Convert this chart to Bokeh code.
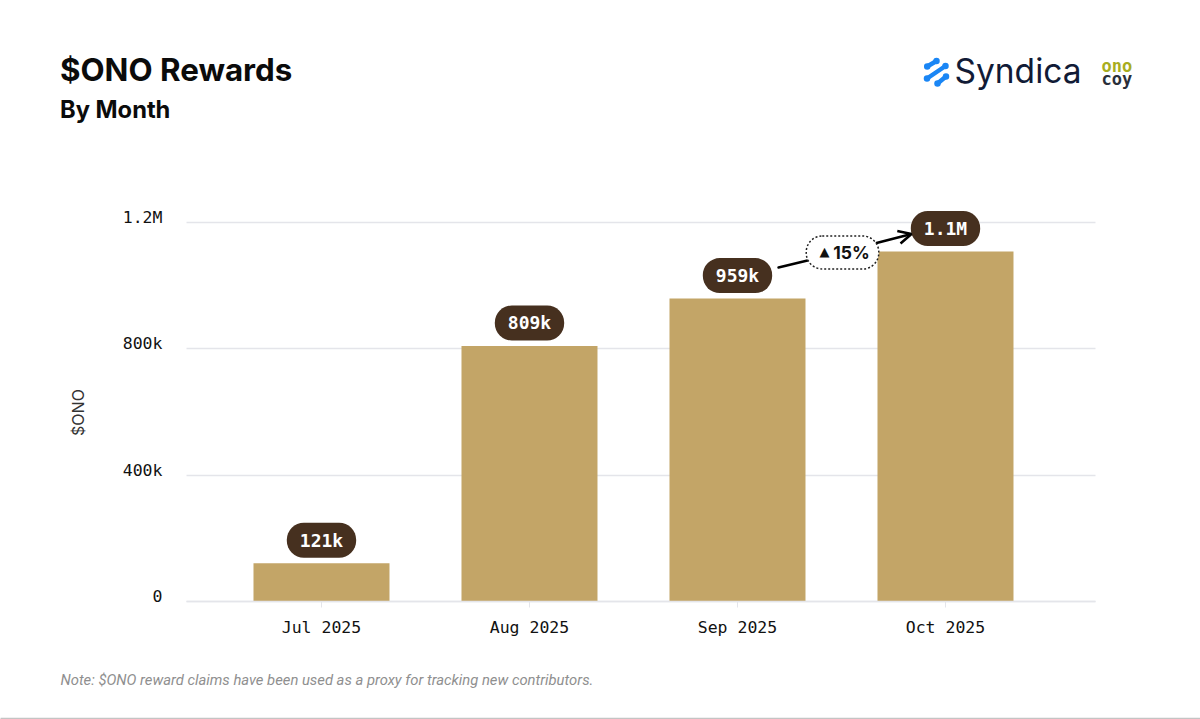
import math
from bokeh.plotting import figure
from bokeh.models import Label, Arrow, OpenHead, Range1d, FixedTicker, Grid
from bokeh.embed import file_html
from bokeh.resources import INLINE

# ---- data ----
months = ["Jul 2025", "Aug 2025", "Sep 2025", "Oct 2025"]
rewards = [121000, 809000, 959000, 1108000]
bar_labels = ["121k", "809k", "959k", "1.1M"]
y_ticks = [0, 400000, 800000, 1200000]
y_tick_labels = ["0", "400k", "800k", "1.2M"]
title = "$ONO Rewards"
subtitle = "By Month"
y_title = "$ONO"
note = "Note: $ONO reward claims have been used as a proxy for tracking new contributors."
growth_label = "15%"

PILL = "#46301f"
BAR = "#c3a567"
GRID = "#e4e5ea"
INK = "#111111"
MONO = "DejaVu Sans Mono"

xs = list(range(len(months)))
X0, STEP = -0.649, 208.0


def dx(px):
    return X0 + (px - 186) / STEP


def dy(py):
    return (601 - py) / 379 * 1200000


# The frame fills the whole canvas so that annotations outside the plot area are not clipped.
p = figure(width=1200, height=719, output_backend="svg", toolbar_location=None,
           x_range=Range1d(dx(0), dx(1200)), y_range=Range1d(dy(719), dy(0)),
           min_border_left=0, min_border_right=0, min_border_top=0, min_border_bottom=0)
p.outline_line_color = None

p.vbar(x=xs, top=rewards, width=136 / STEP, color=BAR, line_color=None)

p.xgrid.visible = False
p.ygrid.ticker = FixedTicker(ticks=y_ticks)
p.ygrid.grid_line_color = GRID
p.ygrid.grid_line_width = 1.5
if "cross_bounds" in Grid.properties():
    p.ygrid.cross_bounds = (dx(186), dx(1095))
else:
    p.ygrid.visible = False
    p.segment(x0=[dx(186)] * 4, x1=[dx(1095)] * 4, y0=y_ticks, y1=y_ticks, line_color=GRID,
              line_width=1.5, level="underlay")

ax = p.xaxis[0]
ax.fixed_location = 0
ax.bounds = (dx(186), dx(1095))
ax.ticker = FixedTicker(ticks=xs)
ax.major_label_overrides = dict(zip(xs, months))
ax.axis_line_color = GRID
ax.axis_line_width = 1.5
ax.major_tick_line_color = GRID
ax.major_tick_out = 6
ax.major_tick_in = 0
ax.minor_tick_line_color = None
ax.major_label_standoff = 10
ax.major_label_text_font = MONO
ax.major_label_text_font_size = "16.5px"
ax.major_label_text_color = INK

# the reference's tick labels sit just above their gridlines
LABEL_LIFT = 5 / 379 * 1200000
lifted = [v + LABEL_LIFT for v in y_ticks]
ay = p.yaxis[0]
ay.fixed_location = dx(186)
ay.ticker = FixedTicker(ticks=lifted)
ay.major_label_overrides = dict(zip(lifted, y_tick_labels))
ay.axis_line_color = None
ay.major_tick_line_color = None
ay.minor_tick_line_color = None
ay.major_label_standoff = 18
ay.major_label_text_font = MONO
ay.major_label_text_font_size = "16.5px"
ay.major_label_text_color = INK

for x, v, t in zip(xs, rewards, bar_labels):
    p.add_layout(Label(x=x, y=v, text=t, y_offset=23, text_align="center", text_baseline="middle",
                       text_color="white", text_font=MONO, text_font_style="bold", text_font_size="18px",
                       background_fill_color=PILL, border_radius=17, padding=(13, 7)))


def line(x0, y0, x1, y1, color, width, head=None):
    p.add_layout(Arrow(x_start=dx(x0), y_start=dy(y0), x_end=dx(x1), y_end=dy(y1),
                       end=head, line_color=color, line_width=width, line_cap="round"))


line(778, 267, 807, 260, "black", 2.5)
line(876, 242.5, 911, 233.5, "black", 2.5, OpenHead(size=13, line_width=2.5, line_color="black"))

p.add_layout(Label(x=dx(842), y=dy(252), text=growth_label, text_align="center", text_baseline="middle",
                   text_color=INK, text_font="Inter", text_font_style="bold", text_font_size="17.5px",
                   background_fill_color="white", border_line_color="#222222", border_line_width=1.5,
                   border_line_dash=[2, 2], border_radius=16, padding=(27, 9, 6, 6)))
p.add_layout(Label(x=dx(824), y=dy(251), text="▲", text_align="center", text_baseline="middle",
                   text_color=INK, text_font="DejaVu Sans", text_font_size="13px"))


def text(px, py, s, font, size, color, style="normal", **kw):
    kw.setdefault("text_baseline", "alphabetic")
    p.add_layout(Label(x=dx(px), y=dy(py), text=s, text_font=font, text_font_size=size, text_color=color,
                       text_font_style=style, **kw))


text(59.5, 69, title, "Inter", "31.3px", "#0b0b0b", "bold")
text(59.5, 109, subtitle, "Inter", "23.7px", "#0b0b0b", "bold")
text(60, 679, note, "Roboto", "14.8px", "#8f8f8f", "italic")
text(77, 412, y_title, "Inter", "16px", "#333333", angle=math.pi / 2, text_align="center", text_baseline="middle")

# logos
LOGO_BLUE = "#1a86f5"
logo_x0 = [dx(926.7), dx(926.5), dx(937)]
logo_x1 = [dx(936), dx(945), dx(945.5)]
logo_y0 = [dy(66), dy(78), dy(83)]
logo_y1 = [dy(60.5), dy(65.5), dy(76)]
p.segment(x0=logo_x0, y0=logo_y0, x1=logo_x1, y1=logo_y1, line_color=LOGO_BLUE, line_width=4.5, line_cap="round")
p.scatter(x=logo_x0 + logo_x1, y=logo_y0 + logo_y1, size=6.5, color=LOGO_BLUE, line_color=None)
text(954, 70, "Syndica", "Inter", "33.5px", "#111b36")
text(1101, 65.5, "ono", MONO, "17px", "#a8ad1f", "bold")
text(1101, 78.5, "coy", MONO, "17px", "#2a2f3a", "bold")

# rule along the bottom of the card
line(0, 718, 1200, 718, "#c4c4c4", 1.5)

open("out.html", "w").write(file_html(p, INLINE))
